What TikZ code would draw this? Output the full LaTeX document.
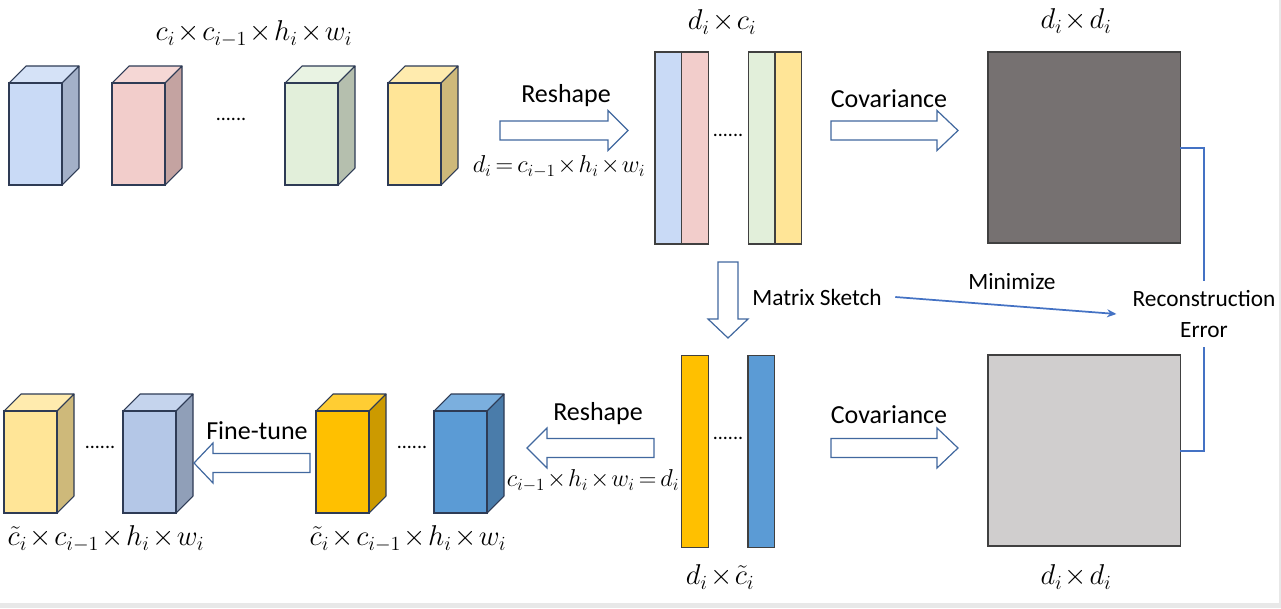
\RequirePackage{fix-cm}
\documentclass[tikz,border=0pt]{standalone}
\usepackage{fontspec}
\setmainfont{Carlito}
\usetikzlibrary{arrows.meta}
\definecolor{cubeline}{HTML}{2E3B55}
\definecolor{arrline}{HTML}{41689F}
\definecolor{conn}{HTML}{4472C4}
\definecolor{blF}{HTML}{C9DAF6}\definecolor{blS}{HTML}{A3B0C8}\definecolor{blT}{HTML}{D5E2F7}
\definecolor{pkF}{HTML}{F2CDCB}\definecolor{pkS}{HTML}{C4A3A1}\definecolor{pkT}{HTML}{F5D7D5}
\definecolor{grF}{HTML}{E2EFDA}\definecolor{grS}{HTML}{B5BFAE}\definecolor{grT}{HTML}{E9F3E3}
\definecolor{yeF}{HTML}{FFE597}\definecolor{yeS}{HTML}{CEB97A}\definecolor{yeT}{HTML}{FFEBAE}
\definecolor{lbF}{HTML}{B4C7E7}\definecolor{lbS}{HTML}{909FB8}\definecolor{lbT}{HTML}{C5D4ED}
\definecolor{orF}{HTML}{FFC000}\definecolor{orS}{HTML}{CC9A00}\definecolor{orT}{HTML}{FFCD33}
\definecolor{dbF}{HTML}{5B9BD5}\definecolor{dbS}{HTML}{4A7CAA}\definecolor{dbT}{HTML}{7BAFDE}
\definecolor{sqDark}{HTML}{767171}
\definecolor{sqLight}{HTML}{D0CECE}
\newcommand\mth[1]{$\medmuskip=1.5mu\thickmuskip=3mu #1$}
\newcommand\mycube[6]{%
  \fill[#6,draw=cubeline,line width=0.8pt,line join=round] (#2,#3) -- ++(17,-17) -- ++(53,0) -- ++(-17,17) -- cycle;
  \fill[#5,draw=cubeline,line width=0.8pt,line join=round] (#2+53,#3) -- ++(17,-17) -- ++(0,102) -- ++(-17,17) -- cycle;
  \node[cubeface,fill=#4,anchor=north west] (#1) at (#2,#3) {};
}
\newcommand\rarrow[4]{% x1, headbase, tip, ycenter
  \draw[blockarrow] (#1,#4-9.5) -- (#2,#4-9.5) -- (#2,#4-20) -- (#3,#4) -- (#2,#4+20) -- (#2,#4+9.5) -- (#1,#4+9.5) -- cycle;
}
\begin{document}
\begin{tikzpicture}[x=0.75pt,y=-0.75pt,
  cubeface/.style={draw=cubeline,line width=0.8pt,minimum width=39.75pt,minimum height=76.5pt,inner sep=0pt,outer sep=0pt},
  colbox/.style={draw=black!75,line width=0.8pt,minimum width=20pt,minimum height=144pt,inner sep=0pt,outer sep=0pt,anchor=north west},
  sqbox/.style={draw=black!75,line width=0.8pt,minimum width=144.3pt,minimum height=143.25pt,inner sep=0pt,outer sep=0pt},
  blockarrow/.style={draw=arrline,fill=white,line width=0.9pt,line join=miter},
  lbl/.style={font=\fontsize{19.5}{23}\selectfont,inner sep=0pt},
  slbl/.style={font=\fontsize{17.5}{21.75}\selectfont,inner sep=0pt},
  mlbl/.style={font=\fontsize{21.5}{26}\selectfont,inner sep=0pt},
  eqlbl/.style={font=\fontsize{18.3}{22}\selectfont,inner sep=0pt},
  dots/.style={font=\fontsize{15}{18}\selectfont,inner sep=0pt},
  connline/.style={draw=conn,line width=1.5pt}
]
\useasboundingbox (0,0) rectangle (1281,608);
\fill[black!9] (0,0) rectangle (1281,608);
\fill[white] (0,0) rectangle (1279,603);

% top cubes
\mycube{c1}{9}{83}{blF}{blS}{blT}
\mycube{c2}{112}{83}{pkF}{pkS}{pkT}
\mycube{c3}{285}{83}{grF}{grS}{grT}
\mycube{c4}{388}{83}{yeF}{yeS}{yeT}
\node[dots] (td1) at (231,119) {......};
\node[mlbl] (lt1) at (254,34) {\mth{c_i\times c_{i-1}\times h_i\times w_i}};

% top reshape
\rarrow{500}{608}{628}{130.5}
\node[lbl] (rs1) at (566,96) {Reshape};
\node[eqlbl] (eq1) at (559,167) {\mth{d_i=c_{i-1}\times h_i\times w_i}};

% top columns
\node[colbox,fill=blF] (k1) at (655,52) {};
\node[colbox,fill=pkF] (k2) at (681.7,52) {};
\node[colbox,fill=grF] (k3) at (748.3,52) {};
\node[colbox,fill=yeF] (k4) at (775,52) {};
\node[dots] (td2) at (728,135) {......};
\node[mlbl] (lt2) at (722,22) {\mth{d_i\times c_i}};

% top covariance
\rarrow{831}{937}{958}{130.5}
\node[lbl] (cv1) at (889,99) {Covariance};

% top square
\node[sqbox,fill=sqDark,anchor=north west] (sq1) at (988,52) {};
\node[mlbl] (lt3) at (1076,21) {\mth{d_i\times d_i}};

% matrix sketch
\draw[blockarrow] (718,262) -- (738,262) -- (738,319) -- (748,319) -- (728,338) -- (708,319) -- (718,319) -- cycle;
\node[slbl] (ms) at (817,297) {Matrix Sketch};
\node[slbl,align=center,inner xsep=5pt,inner ysep=7pt] (rec) at (1204,314) {Reconstruction\\[1pt]Error};
\draw[conn,line width=1.3pt,-{Stealth[length=7pt,width=6pt]}] ([xshift=10pt]ms.east) -- ([xshift=-7pt]rec.west);
\node[slbl] (mn) at (1012,282) {Minimize};
\draw[connline] (sq1.east) -| (rec.north);

% bottom square
\node[sqbox,fill=sqLight,anchor=north west] (sq2) at (988,355) {};
\node[mlbl] (lb3) at (1076,577) {\mth{d_i\times d_i}};
\draw[connline] (sq2.east) -| (rec.south);

% bottom covariance
\rarrow{831}{937}{958}{448}
\node[lbl] (cv2) at (889,415) {Covariance};

% bottom columns
\node[colbox,fill=orF] (b1) at (681.5,355.5) {};
\node[colbox,fill=dbF] (b2) at (748,355.5) {};
\node[dots] (bd2) at (728,438) {......};
\node[mlbl] (lb2) at (720,577) {\mth{d_i\times\tilde{c}_i}};

% bottom reshape (leftwards)
\rarrow{654}{547}{527}{448}
\node[lbl] (rs2) at (598,414) {Reshape};

% bottom cubes
\mycube{e1}{4}{411}{yeF}{yeS}{yeT}
\mycube{e2}{123}{411}{lbF}{lbS}{lbT}
\mycube{e3}{316}{411}{orF}{orS}{orT}
\mycube{e4}{434}{411}{dbF}{dbS}{dbT}
\node[dots] (bd1) at (100,447) {......};
\node[dots] (bd3) at (412,447) {......};
\rarrow{310}{213}{194}{463}
\node[lbl] (ft) at (257,431) {Fine-tune};
\node[eqlbl] (eq2) at (593,481) {\mth{c_{i-1}\times h_i\times w_i=d_i}};
\node[mlbl] (lb4) at (106,539) {\mth{\tilde{c}_i\times c_{i-1}\times h_i\times w_i}};
\node[mlbl] (lb5) at (408,539) {\mth{\tilde{c}_i\times c_{i-1}\times h_i\times w_i}};
\end{tikzpicture}
\end{document}
